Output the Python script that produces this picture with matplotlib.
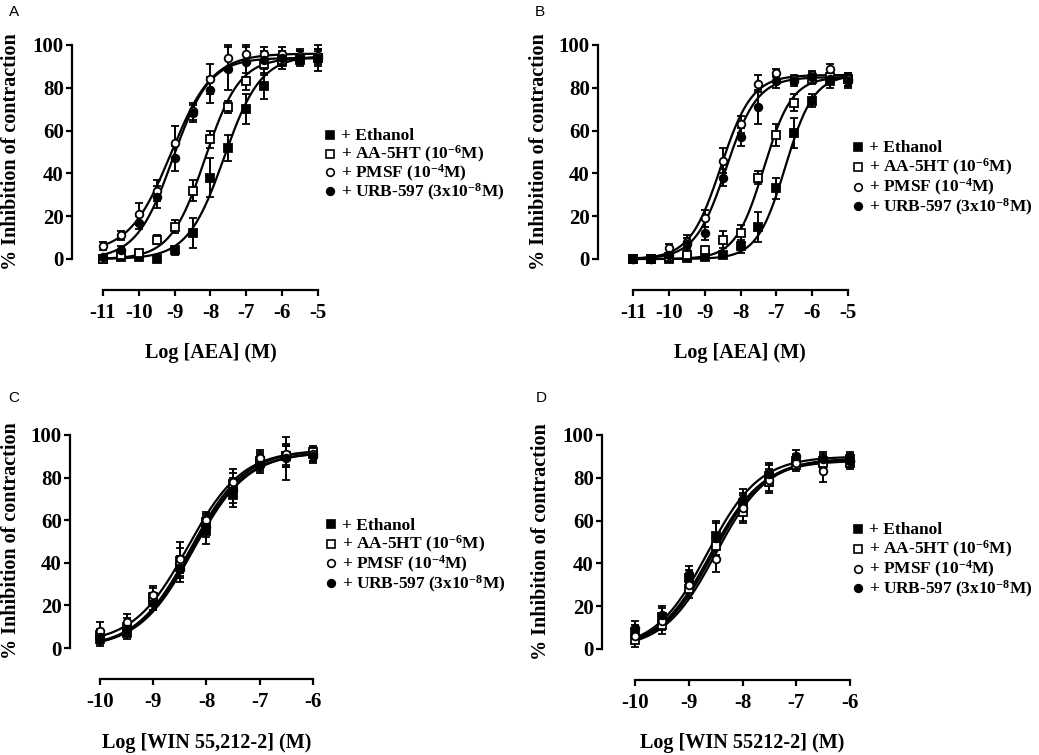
#!/usr/bin/env python3
"""
Concentration-response curves (% inhibition of contraction) for AEA and
WIN 55,212-2 in the presence of vehicle or FAAH / uptake inhibitors.
Four panels, Prism-style axes with detached spines.
"""

import numpy as np
import matplotlib
matplotlib.use("Agg")
import matplotlib.pyplot as plt
from matplotlib.lines import Line2D

W, H = 1039, 755

# log concentrations (M)
log_aea = [-11, -10.5, -10, -9.5, -9, -8.5, -8, -7.5, -7, -6.5, -6, -5.5, -5]
log_win = [-10, -9.5, -9, -8.5, -8, -7.5, -7, -6.5, -6]

# Panel A - AEA
a_ethanol = [0, 1, 1, 0, 4, 12, 38, 52, 70, 81, 92, 93, 94]
a_ethanol_sem = [1, 1, 1, 1, 2, 7, 9, 6, 7, 6, 3, 3, 4]
a_aa5ht = [0, 2, 3, 9, 15, 32, 56, 71, 83, 91, 93, 94, 94]
a_aa5ht_sem = [1, 1, 1, 2, 3, 5, 4, 3, 4, 5, 3, 3, 3]
a_pmsf = [6, 11, 21, 32, 54, 69, 84, 94, 96, 96, 96, 95, 95]
a_pmsf_sem = [2, 2, 5, 5, 8, 4, 7, 6, 4, 3, 3, 3, 3]
a_urb = [1, 4, 17, 29, 47, 68, 79, 89, 92, 93, 94, 94, 94]
a_urb_sem = [1, 2, 3, 5, 6, 4, 6, 10, 7, 4, 3, 3, 6]

# Panel B - AEA
b_ethanol = [0, 0, 0, 0.5, 1, 2, 6, 15, 33, 59, 74, 83, 84]
b_ethanol_sem = [1, 1, 1, 1, 1, 1, 3, 7, 5, 7, 3, 3, 3]
b_aa5ht = [0, 0, 1, 2, 4, 9, 12, 38, 58, 73, 84, 85, 84]
b_aa5ht_sem = [1, 1, 1, 1, 1, 4, 4, 3, 5, 4, 2, 2, 3]
b_pmsf = [0, 0, 5, 8, 19, 46, 63, 82, 87, 84, 86, 89, 84]
b_pmsf_sem = [1, 1, 2, 3, 4, 6, 4, 4, 2, 2, 2, 2, 3]
b_urb = [0, 0, 2, 7, 12, 38, 57, 71, 83, 83, 85, 84, 83]
b_urb_sem = [1, 1, 1, 3, 3, 4, 4, 8, 3, 2, 2, 2, 3]

# Panel C - WIN 55,212-2
c_ethanol = [4, 7, 22, 38, 55, 72, 87, 90, 91]
c_ethanol_sem = [3, 3, 4, 5, 6, 6, 4, 5, 3]
c_aa5ht = [6, 10, 24, 41, 59, 77, 88, 90, 92]
c_aa5ht_sem = [3, 4, 4, 6, 4, 5, 4, 5, 3]
c_pmsf = [8, 12, 25, 42, 60, 78, 89, 91, 91]
c_pmsf_sem = [4, 4, 4, 8, 4, 6, 4, 5, 3]
c_urb = [5, 9, 21, 37, 57, 74, 86, 89, 90]
c_urb_sem = [3, 3, 3, 6, 5, 6, 4, 10, 3]

# Panel D - WIN 55212-2
d_ethanol = [8, 15, 33, 53, 68, 81, 88, 88, 89]
d_ethanol_sem = [3, 4, 4, 6, 5, 5, 3, 3, 3]
d_aa5ht = [4, 11, 28, 48, 64, 78, 86, 87, 87]
d_aa5ht_sem = [3, 4, 4, 5, 5, 5, 3, 3, 3]
d_pmsf = [6, 13, 30, 42, 66, 79, 87, 83, 88]
d_pmsf_sem = [3, 4, 4, 6, 6, 5, 3, 5, 3]
d_urb = [10, 16, 35, 52, 70, 82, 90, 89, 88]
d_urb_sem = [3, 4, 4, 8, 5, 5, 3, 3, 3]

# fitted sigmoid parameters: bottom, top, logEC50, hill slope
a_fits = [[0, 95, -7.62, 0.85], [0, 94, -8.15, 0.9],
          [3, 96, -9.1, 0.75], [0, 94, -9.05, 0.85]]
b_fits = [[0, 86, -6.75, 1.1], [0, 85, -7.35, 1.1],
          [0, 86, -8.55, 1.0], [0, 85, -8.4, 1.0]]
c_fits = [[0, 92, -8.25, 0.85], [0, 93, -8.3, 0.85],
          [2, 93, -8.35, 0.85], [0, 92, -8.28, 0.85]]
d_fits = [[0, 89, -8.55, 0.9], [0, 88, -8.6, 0.9],
          [0, 89, -8.5, 0.9], [0, 90, -8.65, 0.9]]

series_labels = ["+ Ethanol",
                 "+ AA-5HT (10$^{-6}$M)",
                 "+ PMSF (10$^{-4}$M)",
                 "+ URB-597 (3x10$^{-8}$M)"]
# marker, facecolor
series_styles = [("s", "black"), ("s", "white"), ("o", "white"), ("o", "black")]

SERIF = "Liberation Serif"


def sigmoid(x, bottom, top, logec50, hill):
    return bottom + (top - bottom) / (1 + 10 ** ((logec50 - x) * hill))


def add_panel(fig, spine_x, axis_y, x_px, x_vals, y_px, right_px, top_px):
    # place an axes so that the data coordinates land on given pixels
    sx = (x_px[1] - x_px[0]) / (x_vals[1] - x_vals[0])
    sy = (y_px[0] - y_px[1]) / 100.0
    ax = fig.add_axes([spine_x / W, (H - axis_y) / H,
                       (right_px - spine_x) / W, (axis_y - top_px) / H])
    ax.set_xlim(x_vals[0] - (x_px[0] - spine_x) / sx,
                x_vals[1] + (right_px - x_px[1]) / sx)
    ax.set_ylim(-(axis_y - y_px[0]) / sy, 100 + (y_px[1] - top_px) / sy)
    ax.patch.set_alpha(0)
    for side in ("top", "right"):
        ax.spines[side].set_visible(False)
    for side in ("left", "bottom"):
        ax.spines[side].set_linewidth(1.6)
    ax.spines["left"].set_bounds(0, 100)
    ax.spines["bottom"].set_bounds(x_vals[0], x_vals[1])
    ax.set_yticks([0, 20, 40, 60, 80, 100])
    ax.set_xticks(np.arange(x_vals[0], x_vals[1] + 1, 1))
    ax.set_xticklabels([str(int(v)) for v in ax.get_xticks()])
    ax.tick_params(axis="y", direction="out", length=4.5, width=1.6, pad=1.5)
    ax.tick_params(axis="x", direction="out", length=4.5, width=1.6, pad=5)
    for lab in ax.get_xticklabels() + ax.get_yticklabels():
        lab.set_fontfamily(SERIF)
        lab.set_fontweight("bold")
        lab.set_fontsize(15)
    return ax


def draw_panel(ax, x, means, sems, fits, x_range):
    xs = np.linspace(x_range[0], x_range[1], 300)
    for fit in fits:
        ax.plot(xs, sigmoid(xs, *fit), color="black", lw=1.6, zorder=2)
    for (marker, face), m, s in zip(series_styles, means, sems):
        ax.errorbar(x, m, yerr=s, fmt=marker, ms=5.5, mfc=face, mec="black",
                    mew=1.3, ecolor="black", elinewidth=1.4, capsize=2.8,
                    capthick=1.4, zorder=3, clip_on=False)


def add_legend(fig, marker_x, text_x, first_row_y, row_step):
    # key drawn by hand so row spacing matches the original
    fs = 12.5
    for i, ((mk, face), label) in enumerate(zip(series_styles, series_labels)):
        y = first_row_y + i * row_step
        fig.add_artist(Line2D([marker_x / W], [1 - y / H], ls="none",
                              marker=mk, ms=5.5, mfc=face, mec="black",
                              mew=1.2, transform=fig.transFigure))
        fig.text(text_x / W, 1 - (y + 5.5) / H, label, ha="left",
                 va="baseline", family=SERIF, weight="bold", fontsize=fs)


def main():
    plt.rcParams["mathtext.fontset"] = "custom"
    plt.rcParams["mathtext.rm"] = SERIF + ":bold"
    plt.rcParams["mathtext.bf"] = SERIF + ":bold"
    plt.rcParams["mathtext.it"] = SERIF + ":bold"

    fig = plt.figure(figsize=(W / 100, H / 100), dpi=100)

    panels = [
        # letter, data, fits, x values, layout (px), legend, x label, text pos
        ("A", [a_ethanol, a_aa5ht, a_pmsf, a_urb],
         [a_ethanol_sem, a_aa5ht_sem, a_pmsf_sem, a_urb_sem], a_fits, log_aea,
         dict(spine_x=72, axis_y=290, x_px=(103, 318), x_vals=(-11, -5),
              y_px=(259, 45), right_px=330, top_px=38),
         (330, 341, 135, 18.7), "Log [AEA] (M)",
         (14, 12), (11, 152), (211, 353)),
        ("B", [b_ethanol, b_aa5ht, b_pmsf, b_urb],
         [b_ethanol_sem, b_aa5ht_sem, b_pmsf_sem, b_urb_sem], b_fits, log_aea,
         dict(spine_x=598, axis_y=290, x_px=(633, 848), x_vals=(-11, -5),
              y_px=(259, 45), right_px=860, top_px=38),
         (858, 869, 147, 19.8), "Log [AEA] (M)",
         (540, 12), (539, 152), (740, 353)),
        ("C", [c_ethanol, c_aa5ht, c_pmsf, c_urb],
         [c_ethanol_sem, c_aa5ht_sem, c_pmsf_sem, c_urb_sem], c_fits, log_win,
         dict(spine_x=70, axis_y=679, x_px=(100, 313), x_vals=(-10, -6),
              y_px=(648, 435), right_px=325, top_px=428),
         (331, 342, 524, 19.7), "Log [WIN 55,212-2] (M)",
         (14, 398), (11, 541), (207, 743)),
        ("D", [d_ethanol, d_aa5ht, d_pmsf, d_urb],
         [d_ethanol_sem, d_aa5ht_sem, d_pmsf_sem, d_urb_sem], d_fits, log_win,
         dict(spine_x=602, axis_y=680, x_px=(635, 850), x_vals=(-10, -6),
              y_px=(649, 435), right_px=862, top_px=428),
         (858, 869, 529, 19.8), "Log [WIN 55212-2] (M)",
         (541, 398), (541, 542), (742, 743)),
    ]

    for (letter, means, sems, fits, x, layout, leg, xlabel,
         letter_pos, ylab_pos, xlab_pos) in panels:
        ax = add_panel(fig, **layout)
        draw_panel(ax, x, means, sems, fits, layout["x_vals"])
        add_legend(fig, *leg)

        fig.text(letter_pos[0] / W, 1 - letter_pos[1] / H, letter,
                 ha="center", va="center", fontsize=11,
                 family="Liberation Sans")
        fig.text(ylab_pos[0] / W, 1 - ylab_pos[1] / H,
                 "% Inhibition of contraction", rotation=90,
                 ha="center", va="center", family=SERIF, weight="bold",
                 fontsize=14.5)
        fig.text(xlab_pos[0] / W, 1 - xlab_pos[1] / H, xlabel,
                 ha="center", va="center", family=SERIF, weight="bold",
                 fontsize=14.5)

    fig.savefig("out.png", dpi=100)


if __name__ == "__main__":
    main()
